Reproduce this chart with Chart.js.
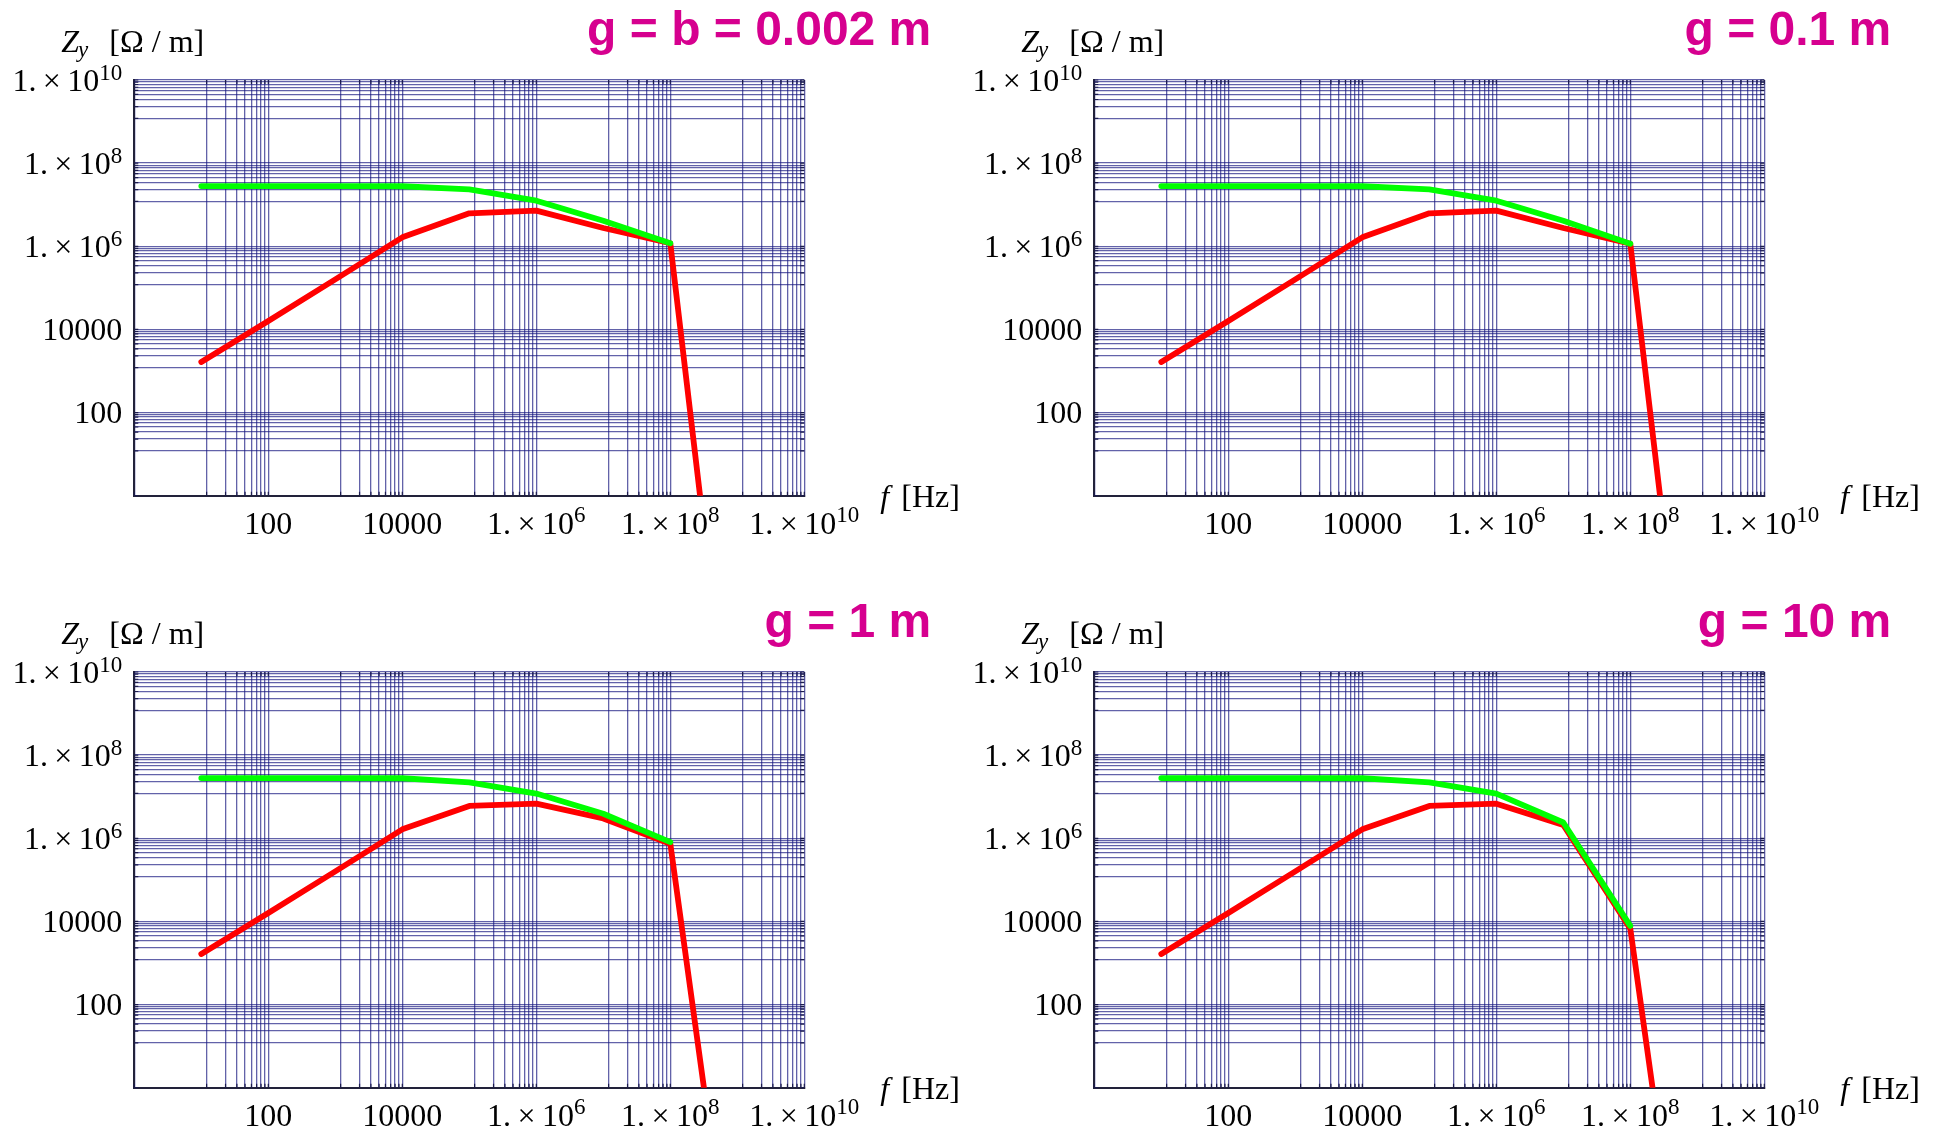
<!DOCTYPE html>
<html>
<head>
<meta charset="utf-8">
<script src="https://cdn.jsdelivr.net/npm/chart.js@4.4.1/dist/chart.umd.min.js"></script>
<style>
html,body{margin:0;padding:0;background:#fff;width:1937px;height:1132px;overflow:hidden}
canvas{position:absolute;display:block}
</style>
</head>
<body>
<canvas id="c0" width="960" height="540" style="left:0px;top:0px"></canvas>
<canvas id="c1" width="960" height="540" style="left:960px;top:0px"></canvas>
<canvas id="c2" width="960" height="540" style="left:0px;top:592px"></canvas>
<canvas id="c3" width="977" height="540" style="left:960px;top:592px"></canvas>
<script>
// ---------- data ----------
const panelTitles = ['g = b = 0.002 m', 'g = 0.1 m', 'g = 1 m', 'g = 10 m'];
const freqRed   = [10, 100, 1000, 1e4, 1e5, 1e6, 1e7, 1e8, 1e9];
const freqGreen = [10, 100, 1000, 1e4, 1e5, 1e6, 1e7, 1e8];

const redG0002  = [1.65e3, 1.6e4, 1.6e5, 1.64e6, 6.2e6, 7.2e6, 2.75e6, 1.18e6, 2.5e-8];
const greenG0002= [2.8e7, 2.8e7, 2.8e7, 2.78e7, 2.35e7, 1.25e7, 4.1e6, 1.18e6];

const redG01    = [1.65e3, 1.6e4, 1.6e5, 1.64e6, 6.2e6, 7.2e6, 2.75e6, 1.15e6, 2.5e-8];
const greenG01  = [2.8e7, 2.8e7, 2.8e7, 2.78e7, 2.35e7, 1.25e7, 4.1e6, 1.15e6];

const redG1     = [1.65e3, 1.6e4, 1.6e5, 1.64e6, 6.0e6, 6.8e6, 3.0e6, 7.4e5, 1.5e-6];
const greenG1   = [2.8e7, 2.8e7, 2.8e7, 2.78e7, 2.2e7, 1.19e7, 3.9e6, 8.1e5];

const redG10    = [1.65e3, 1.6e4, 1.6e5, 1.64e6, 6.0e6, 6.8e6, 2.1e6, 6.7e3, 2.0e-8];
const greenG10  = [2.8e7, 2.8e7, 2.8e7, 2.78e7, 2.2e7, 1.19e7, 2.4e6, 7.8e3];

const redSeries   = [redG0002, redG01, redG1, redG10];
const greenSeries = [greenG0002, greenG01, greenG1, greenG10];

// tick labels (shared by both axes)
const tickValues = [100, 1e4, 1e6, 1e8, 1e10];
const tickBase   = ['100', '10000', '1.\u2009\u00d7\u200910', '1.\u2009\u00d7\u200910', '1.\u2009\u00d7\u200910'];
const tickExp    = ['', '', '6', '8', '10'];

// grid lines: decade blocks and linear steps inside each block
const gridBlocks = [1, 100, 1e4, 1e6, 1e8];
const gridSteps  = [1, 12, 23, 34, 45, 56, 67, 78, 89, 100];
const gridValues = [];
gridBlocks.forEach(b => gridSteps.forEach(s => { const v = b * s; if (!gridValues.includes(v)) gridValues.push(v); }));

// ---------- drawing ----------
const SERIF = '"Liberation Serif", "Times New Roman", serif';
const textPlugin = {
  id: 'texts',
  afterDraw(chart, args, opts) {
    const ctx = chart.ctx, a = chart.chartArea, xs = chart.scales.x, ys = chart.scales.y;
    ctx.save();
    // frame tick marks
    ctx.strokeStyle = '#1c1c4c';
    ctx.lineWidth = 1.2;
    const tl = 4;
    ctx.beginPath();
    gridValues.forEach(v => {
      const px = xs.getPixelForValue(v), py = ys.getPixelForValue(v);
      ctx.moveTo(px, a.bottom); ctx.lineTo(px, a.bottom - tl);
      ctx.moveTo(px, a.top); ctx.lineTo(px, a.top + tl);
      ctx.moveTo(a.left, py); ctx.lineTo(a.left + tl, py);
      ctx.moveTo(a.right, py); ctx.lineTo(a.right - tl, py);
    });
    ctx.stroke();

    ctx.fillStyle = '#000';
    ctx.textBaseline = 'alphabetic';
    ctx.textAlign = 'left';
    const baseFont = '32px ' + SERIF, expFont = '23px ' + SERIF;
    tickValues.forEach((v, i) => {
      ctx.font = baseFont; const wb = ctx.measureText(tickBase[i]).width;
      ctx.font = expFont; const we = tickExp[i] ? ctx.measureText(tickExp[i]).width : 0;
      const W = wb + we;
      // y-axis label
      const py = ys.getPixelForValue(v);
      const xr = a.left - 12;
      ctx.font = baseFont; ctx.fillText(tickBase[i], xr - W, py + 10.8);
      if (we) { ctx.font = expFont; ctx.fillText(tickExp[i], xr - we, py - 0.5); }
      // x-axis label
      const px = xs.getPixelForValue(v);
      const xl = px - W / 2;
      ctx.font = baseFont; ctx.fillText(tickBase[i], xl, a.bottom + 37.8);
      if (we) { ctx.font = expFont; ctx.fillText(tickExp[i], xl + wb, a.bottom + 26.5); }
    });

    // y-axis title  Z_y [Ω / m]
    const yb = a.top - 28.3;
    let x0 = a.left - 73;
    ctx.font = 'italic 32px ' + SERIF;
    ctx.fillText('Z', x0, yb);
    x0 += ctx.measureText('Z').width - 1;
    ctx.font = 'italic 23px ' + SERIF;
    ctx.fillText('y', x0, yb + 5);
    ctx.font = '32px ' + SERIF;
    ctx.fillText('[\u03a9 / m]', a.left - 25, yb);

    // x-axis title  f [Hz]
    const xb = a.bottom + 11;
    ctx.font = 'italic 32px ' + SERIF;
    ctx.fillText('f', a.right + 76, xb);
    ctx.font = '32px ' + SERIF;
    ctx.fillText('[Hz]', a.right + 97, xb);

    // panel title
    ctx.font = 'bold 48px "Liberation Sans", Arial, sans-serif';
    ctx.fillStyle = '#d6008f';
    ctx.textAlign = 'right';
    ctx.fillText(opts.title, a.right + 127, a.top - 35);
    ctx.restore();
  }
};

function makeChart(id, idx) {
  const gridOpts = { color: 'rgba(24,24,128,0.68)', lineWidth: 1.3, drawTicks: false };
  const borderOpts = { display: true, color: '#22223a', width: 2 };
  new Chart(document.getElementById(id), {
    type: 'line',
    data: {
      datasets: [
        {
          label: 'green',
          data: freqGreen.map((f, i) => ({ x: f, y: greenSeries[idx][i] })),
          borderColor: '#00ff00', borderWidth: 5.8, pointRadius: 0,
          borderCapStyle: 'round', borderJoinStyle: 'round', tension: 0, order: 0, clip: 0
        },
        {
          label: 'red',
          data: freqRed.map((f, i) => ({ x: f, y: redSeries[idx][i] })),
          borderColor: '#ff0000', borderWidth: 5.8, pointRadius: 0,
          borderCapStyle: 'round', borderJoinStyle: 'round', tension: 0, order: 1, clip: 0
        }
      ]
    },
    options: {
      responsive: false,
      animation: false,
      devicePixelRatio: 1,
      layout: { padding: { left: 134.3, right: (id === 'c3' ? 977 : 960) - 804.3, top: 80, bottom: 540 - 495.7 } },
      plugins: { legend: { display: false }, tooltip: { enabled: false }, texts: { title: panelTitles[idx] } },
      scales: {
        x: {
          type: 'logarithmic', min: 1, max: 1e10,
          grid: gridOpts, border: borderOpts,
          ticks: { display: false },
          afterBuildTicks: s => { s.ticks = gridValues.map(v => ({ value: v })); }
        },
        y: {
          type: 'logarithmic', min: 1, max: 1e10,
          grid: gridOpts, border: borderOpts,
          ticks: { display: false },
          afterBuildTicks: s => { s.ticks = gridValues.map(v => ({ value: v })); }
        }
      }
    },
    plugins: [textPlugin]
  });
}
['c0', 'c1', 'c2', 'c3'].forEach((id, i) => makeChart(id, i));
</script>
</body>
</html>
